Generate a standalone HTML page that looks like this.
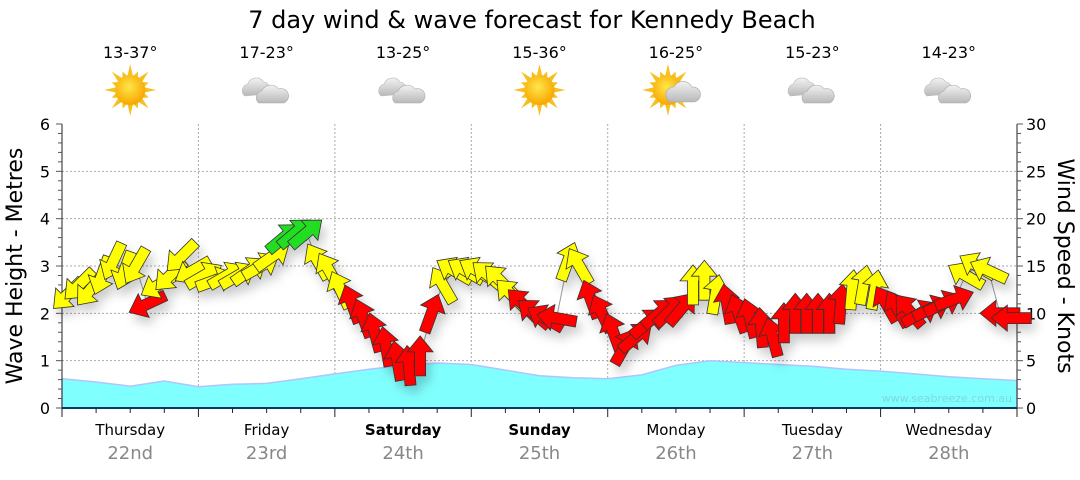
<!DOCTYPE html>
<html><head><meta charset="utf-8"><style>
body{margin:0;background:#fff;font-family:"Liberation Sans","DejaVu Sans",sans-serif}
svg text{font-family:"DejaVu Sans","Liberation Sans",sans-serif}
</style></head><body>
<svg id="chart" width="1080" height="475" viewBox="0 0 1080 475" xmlns="http://www.w3.org/2000/svg">
<defs>
<filter id="sh" x="-50%" y="-50%" width="200%" height="200%"><feDropShadow dx="4" dy="7" stdDeviation="5" flood-color="#000" flood-opacity="0.2"/></filter>
<radialGradient id="sunG" cx="45%" cy="40%" r="60%"><stop offset="0" stop-color="#ffe64a"/><stop offset="1" stop-color="#f7a600"/></radialGradient>
<linearGradient id="cloudG" x1="0" y1="0" x2="0" y2="1"><stop offset="0" stop-color="#f2f2f2"/><stop offset="1" stop-color="#b8b8b8"/></linearGradient>
</defs>
<text x="532" y="28" font-size="24" text-anchor="middle" fill="#000">7 day wind &amp; wave forecast for Kennedy Beach</text>
<g id="grid"></g><g id="wave"></g><g id="axes"></g><g id="wind"></g><g id="top"></g>
<text x="1012" y="402" font-size="11" text-anchor="end" fill="#7fd8e0">www.seabreeze.com.au</text>
<text transform="translate(22,266) rotate(-90)" font-size="22" text-anchor="middle" fill="#000">Wave Height - Metres</text>
<text transform="translate(1058,266) rotate(90)" font-size="22" text-anchor="middle" fill="#000">Wind Speed - Knots</text>
</svg>
<script>
const days=["Thursday","Friday","Saturday","Sunday","Monday","Tuesday","Wednesday"];
const dates=["22nd","23rd","24th","25th","26th","27th","28th"];
const temps=["13-37°","17-23°","13-25°","15-36°","16-25°","15-23°","14-23°"];
const icons=["sun","cloud","cloud","sun","partly","cloud","cloud"];
const waveHeights=[0.62,0.55,0.46,0.57,0.45,0.5,0.52,0.62,0.72,0.82,0.9,0.95,0.92,0.8,0.68,0.64,0.62,0.7,0.9,1.0,0.96,0.92,0.88,0.82,0.78,0.72,0.66,0.62,0.58];
const windSpeeds=[
12,13,12.5,14,15.5,14.5,15,11,13,14,16,14.5,
14,13.5,14,14,14.5,15,16,18,18.5,18.5,15.5,14.5,
12.5,11,9.5,8,6.5,5,4.5,5.5,10,13,14.5,14.5,
14.5,14,13.5,12,11,10,9.5,9.5,15.5,15,11.5,10,
8,6.5,7.5,9,10,10.3,10.5,13,13.5,12,11,10,
9.5,8.5,7.5,9,10,10,10,10,11,12.5,13,12.5,
11,10.5,10.3,10,10.5,11,11.5,14,15,14.5,10,9.5];
const windDirs=[
225,225,220,200,205,200,210,245,240,225,225,240,
60,70,60,60,55,60,55,50,50,50,330,330,
335,340,340,345,350,350,355,0,20,330,300,300,
300,310,315,315,315,310,300,280,20,330,340,335,
340,30,50,50,50,45,40,0,0,10,350,340,
345,355,345,0,0,0,0,0,5,5,10,10,
330,330,320,60,65,65,70,300,300,295,270,270];
const NS="http://www.w3.org/2000/svg";
const X0=62,X1=1017,YB=408,YT=124,DW=(X1-X0)/7;
const yL=v=>YB-v*(YB-YT)/6, yR=v=>YB-v*(YB-YT)/30;
const xT=t=>X0+t*DW;
function mk(tag,attrs,parent){const e=document.createElementNS(NS,tag);for(const k in attrs)e.setAttribute(k,attrs[k]);parent.appendChild(e);return e;}
const G=id=>document.getElementById(id);
for(let v=1;v<=5;v++){const l=mk('line',{x1:X0,x2:X1,y1:yL(v),y2:yL(v),stroke:'#aaa','stroke-dasharray':'2,2'},G('grid'));

}
for(let d=1;d<7;d++){const l=mk('line',{x1:xT(d),x2:xT(d),y1:YT,y2:YB,stroke:'#aaa','stroke-dasharray':'2,2'},G('grid'));

}
let pts=`${X0},${YB} `;waveHeights.forEach((h,i)=>{pts+=`${xT(i*7/(waveHeights.length-1)).toFixed(1)},${yL(h).toFixed(1)} `});pts+=`${X1},${YB}`;
const wa=mk('polygon',{points:pts,fill:'#80ffff',stroke:'#b0c4ff','stroke-width':1.5},G('wave'));


const ax=G('axes');
mk('line',{x1:X0,x2:X0,y1:YT,y2:YB,stroke:'#222'},ax);
mk('line',{x1:X1,x2:X1,y1:YT,y2:YB,stroke:'#222'},ax);
mk('line',{x1:X0,x2:X1,y1:YB,y2:YB,stroke:'#0a3a6a','stroke-width':2},ax);
for(let i=0;i<=30;i++){const v=i/5,y=yL(v),maj=i%5==0;mk('line',{x1:X0-(maj?6:4),x2:X0,y1:y,y2:y,stroke:'#555'},ax);}
for(let v=0;v<=6;v++){const t=mk('text',{x:50,y:yL(v)+6,'font-size':16,'text-anchor':'end',fill:'#000'},ax);t.textContent=v;

}
for(let i=0;i<=30;i++){const y=yR(i),maj=i%5==0;mk('line',{x1:X1,x2:X1+(maj?6:4),y1:y,y2:y,stroke:'#555'},ax);}
for(let v=0;v<=30;v+=5){const t=mk('text',{x:1026,y:yR(v)+6,'font-size':16,fill:'#000'},ax);t.textContent=v;

}
for(let i=0;i<=28;i++){const x=xT(i/4),maj=i%4==0;mk('line',{x1:x,x2:x,y1:YB,y2:YB+(maj?9:5),stroke:'#222'},ax);}
days.forEach((d,i)=>{const cx=xT(i+0.5);
const t=mk('text',{x:cx,y:435,'font-size':15,'text-anchor':'middle',fill:'#000','font-weight':(i==2||i==3)?'bold':'normal'},ax);t.textContent=d;


const t2=mk('text',{x:cx,y:459,'font-size':18,'text-anchor':'middle',fill:'#888'},ax);t2.textContent=dates[i];


const t3=mk('text',{x:cx,y:58,'font-size':16,'text-anchor':'middle',fill:'#000'},G('top'));t3.textContent=temps[i];


const g=mk('g',{transform:`translate(${cx},90)`},G('top'));


if(icons[i]=='sun'||icons[i]=='partly'){
 const ox=icons[i]=='partly'?-8:0;
 for(let k=0;k<16;k++){const a=k*Math.PI/8,r=k%2?20:26;mk('polygon',{points:`${ox+Math.cos(a)*r},${Math.sin(a)*r} ${ox+Math.cos(a+0.2)*14},${Math.sin(a+0.2)*14} ${ox+Math.cos(a-0.2)*14},${Math.sin(a-0.2)*14}`,fill:'#f6c020'},g);}
 mk('circle',{cx:ox,cy:0,r:15,fill:'url(#sunG)'},g);
 if(icons[i]=='partly'){mk('path',{d:'M-6,12 a8,8 0 0 1 4,-15 a10,10 0 0 1 18,0 a7,7 0 0 1 2,15 z',fill:'url(#cloudG)',stroke:'#aaa','stroke-width':0.6},g);}
}else{
 mk('path',{d:'M-22,6 a7,7 0 0 1 3,-12 a9,9 0 0 1 16,-2 a7,7 0 0 1 4,12 z',fill:'url(#cloudG)',stroke:'#bbb','stroke-width':0.6},g);
 mk('path',{d:'M-8,13 a7,7 0 0 1 3,-12 a10,10 0 0 1 17,-2 a7,7 0 0 1 5,14 z',fill:'url(#cloudG)',stroke:'#aaa','stroke-width':0.6},g);
}
});
const wg=G('wind');
const wpts=windSpeeds.map((s,i)=>[xT((i+0.5)*7/windSpeeds.length),yR(s)]);
const pl=mk('polyline',{points:wpts.map(p=>p.join(',')).join(' '),fill:'none',stroke:'#999','stroke-width':1},wg);


const ag=mk('g',{filter:'url(#sh)'},wg);
windSpeeds.forEach((s,i)=>{const [x,y]=wpts[i];
 const col=s>=17.5?'#22dd22':(s>=12?'#ffff00':'#ff0000');
 const a=mk('polygon',{points:'0,-20 13,-4 5.5,-4 5.5,20 -5.5,20 -5.5,-4 -13,-4',fill:col,stroke:'#333','stroke-width':0.8,transform:`translate(${x.toFixed(1)},${y.toFixed(1)}) rotate(${windDirs[i]})`},ag);
 
 
});
</script>
</body></html>
